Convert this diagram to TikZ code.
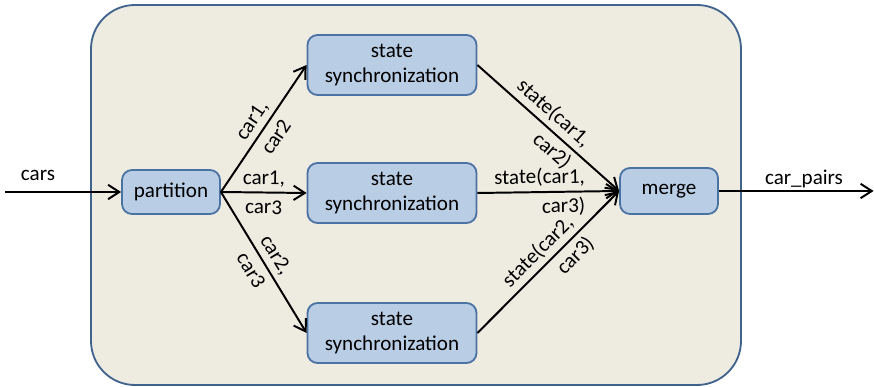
\documentclass[tikz,border=0pt]{standalone}
\usepackage{fontspec}
\setmainfont{Carlito}
\usetikzlibrary{arrows.meta}

\definecolor{panelfill}{HTML}{EEECE1}
\definecolor{paneldraw}{HTML}{41648F}
\definecolor{boxfill}{HTML}{B9CDE5}
\definecolor{boxdraw}{HTML}{4A72A3}

\begin{document}
\begin{tikzpicture}[font=\fontsize{15}{18}\selectfont, >={Straight Barb[length=2.8mm,width=3.6mm]},
  opbox/.style={draw=boxdraw, fill=boxfill, line width=1.3pt, rounded corners=2.5mm,
    minimum width=2.45cm, minimum height=1.1cm, align=center, inner sep=2pt},
  flow/.style={->, line width=1.4pt},
  lbl/.style={sloped, align=center, inner sep=1pt}]

\useasboundingbox (0,0) rectangle (21.85,9.675);

\draw[paneldraw, fill=panelfill, line width=1.3pt, rounded corners=1.1cm] (2.275,0.05) rectangle (18.525,9.55);

\node[opbox] (part) at (4.275,4.875) {partition};
\node[opbox, minimum width=4.225cm, minimum height=1.5cm] (syncA) at (9.8,8.05) {state\\synchronization};
\node[opbox, minimum width=4.225cm, minimum height=1.5cm] (syncB) at (9.8,4.85) {state\\synchronization};
\node[opbox, minimum width=4.225cm, minimum height=1.5cm] (syncC) at (9.8,1.35) {state\\synchronization};
\node[opbox, minimum height=1.15cm] (merge) at (16.725,4.9) {merge};

\coordinate (in) at (0.12,4.875);
\coordinate (out) at (21.84,4.9);

\draw[flow] (in) -- (part.west);
\node (cars) at (0.95,5.3) {cars};

\draw[flow] (part.east) -- node[lbl, midway] {car1,\\[3pt]car2} (syncA.west);
\draw[flow] (part.east) -- node[lbl, midway] {car1,\\[3pt]car3} (syncB.west);
\draw[flow] (part.east) -- node[lbl, midway] {car2,\\[3pt]car3} (syncC.west);

\draw[flow] (syncA.east) -- node[lbl, pos=0.47, align=right] {state(car1,\\[3pt]car2)} (merge.west);
\draw[flow] (syncB.east) -- node[lbl, pos=0.44, align=right] {state(car1,\\[3pt]car3)} (merge.west);
\draw[flow] (syncC.east) -- node[lbl, pos=0.5, align=right] {state(car2,\\[3pt]car3)} (merge.west);

\draw[flow] (merge.east) -- (out);
\node (pairs) at (20.1,5.2) {car\_pairs};

\end{tikzpicture}
\end{document}
